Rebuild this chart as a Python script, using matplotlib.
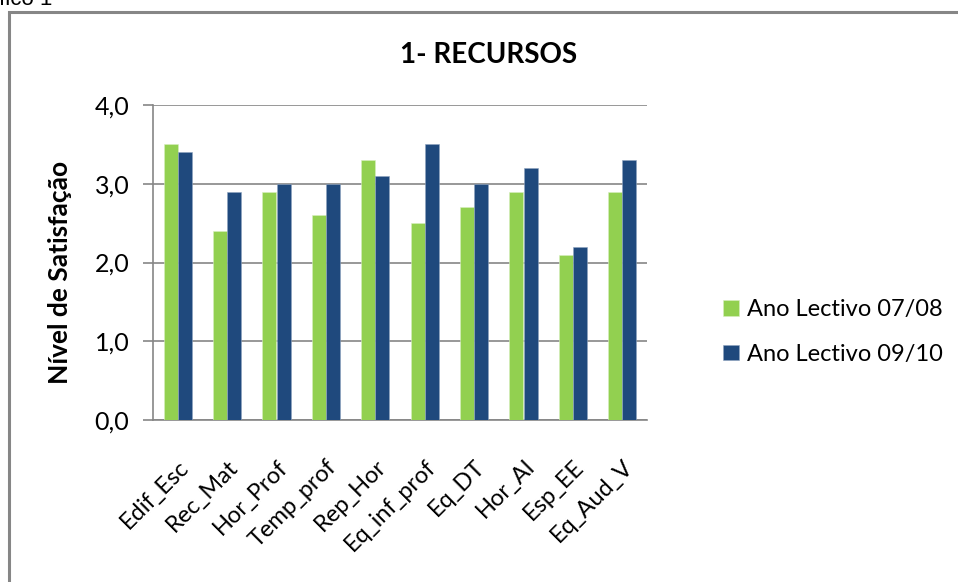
import numpy as np
import matplotlib
matplotlib.use("Agg")
import matplotlib.pyplot as plt
from matplotlib.patches import Rectangle

categories = ['Edif_Esc', 'Rec_Mat', 'Hor_Prof', 'Temp_prof', 'Rep_Hor',
              'Eq_inf_prof', 'Eq_DT', 'Hor_Al', 'Esp_EE', 'Eq_Aud_V']
ano_0708 = [3.5, 2.4, 2.9, 2.6, 3.3, 2.5, 2.7, 2.9, 2.1, 2.9]
ano_0910 = [3.4, 2.9, 3.0, 3.0, 3.1, 3.5, 3.0, 3.2, 2.2, 3.3]
series_names = ['Ano Lectivo 07/08', 'Ano Lectivo 09/10']
yticks = [0, 1, 2, 3, 4]

green = '#92D050'
blue = '#1F497D'
grid_gray = '#868686'

plt.rcParams['font.family'] = ['Lato', 'DejaVu Sans']

fig = plt.figure(figsize=(9.58, 5.82), dpi=100)
W, H = 958, 582

# outer chart border (runs past right and bottom edges of the image)
fig.patches.append(Rectangle((9 / W, -0.1), 1.2, 1 - 12 / H + 0.1,
                             transform=fig.transFigure, fill=False,
                             edgecolor=grid_gray, linewidth=2.2))

# clipped caption at the very top
fig.text(-1 / W, 1 - 5 / H, 'fico 1', ha='left', va='baseline',
         fontsize=16, family='Liberation Sans', color='black')

ax = fig.add_axes([153 / W, 1 - 420 / H, 494 / W, 315 / H])

x = np.arange(len(categories))
bw = 0.285
ax.bar(x - bw / 2, ano_0708, width=bw, color=green, edgecolor='#d8efc0',
       linewidth=0.4, label=series_names[0], zorder=3)
ax.bar(x + bw / 2, ano_0910, width=bw, color=blue, edgecolor='#8fa4c0',
       linewidth=0.4, label=series_names[1], zorder=3)

ax.set_xlim(-0.5, len(categories) - 0.5)
ax.set_ylim(0, 4)
ax.set_yticks(yticks)
ax.set_yticklabels([f'{v:.1f}'.replace('.', ',') for v in yticks], fontsize=18)
ax.yaxis.grid(True, color=grid_gray, linewidth=1.2, zorder=0)
ax.tick_params(axis='y', length=7, width=1.2, color=grid_gray, pad=10)
ax.tick_params(axis='x', length=0, pad=26)

ax.set_xticks(x)
ax.set_xticklabels(categories, rotation=45, ha='right', rotation_mode='anchor',
                   fontsize=17)

for s in ['top', 'right']:
    ax.spines[s].set_visible(False)
for s in ['left', 'bottom']:
    ax.spines[s].set_color(grid_gray)
    ax.spines[s].set_linewidth(1.2)

ax.set_ylabel('Nível de Satisfação', fontsize=19, fontweight='bold')
ax.yaxis.set_label_coords(-(153 - 72) / 494, 0.47)
fig.text(489 / W, 1 - 55 / H, '1- RECURSOS', ha='center', va='center',
         fontsize=20, fontweight='bold')

ax.legend(loc='center left', bbox_to_anchor=(702 / W, 1 - 332 / H),
          bbox_transform=fig.transFigure, frameon=False, fontsize=17,
          handlelength=0.65, handleheight=0.65, handletextpad=0.35,
          labelspacing=1.0)

fig.savefig('out.png', dpi=100)
